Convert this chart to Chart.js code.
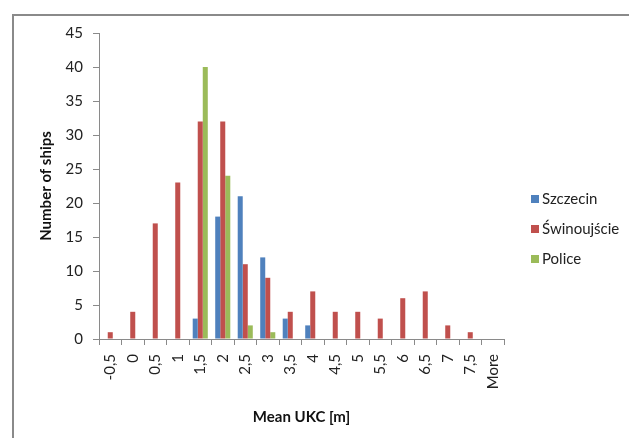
<!DOCTYPE html>
<html>
<head>
<meta charset="utf-8">
<script src="https://cdn.jsdelivr.net/npm/chart.js@4/dist/chart.umd.min.js"></script>
<style>
  html, body { margin: 0; padding: 0; background: #fff; }
  #wrap { width: 629px; height: 438px; }
</style>
</head>
<body>
<div id="wrap"><canvas id="chart" width="629" height="438"></canvas></div>
<script>
const categories = ["-0,5", "0", "0,5", "1", "1,5", "2", "2,5", "3", "3,5", "4", "4,5", "5", "5,5", "6", "6,5", "7", "7,5", "More"];
const szczecin    = [0, 0, 0, 0, 3, 18, 21, 12, 3, 2, 0, 0, 0, 0, 0, 0, 0, 0];
const swinoujscie = [1, 4, 17, 23, 32, 32, 11, 9, 4, 7, 4, 4, 3, 6, 7, 2, 1, 0];
const police      = [0, 0, 0, 0, 40, 24, 2, 1, 0, 0, 0, 0, 0, 0, 0, 0, 0, 0];
const seriesNames = ["Szczecin", "Świnoujście", "Police"];
const seriesColors = ["#4F81BD", "#C0504D", "#9BBB59"];

const FONT = "Lato, 'Open Sans', sans-serif";

// grey frame around the whole chart, like the Excel chart border
const framePlugin = {
   id: "frame",
   beforeDraw(chart) {
      const ctx = chart.ctx;
      ctx.save();
      ctx.fillStyle = "#fff";
      ctx.fillRect(0, 0, chart.width, chart.height);
      ctx.strokeStyle = "#8a8a8a";
      ctx.lineWidth = 2;
      ctx.strokeRect(13, 15, 700, 500);
      ctx.restore();
   }
};

// legend drawn on the right, as in the original
const sideLegend = {
   id: "sideLegend",
   afterDraw(chart) {
      const ctx = chart.ctx;
      ctx.save();
      ctx.font = "15px " + FONT;
      ctx.textBaseline = "middle";
      const ys = [199, 229, 259];
      chart.data.datasets.forEach((ds, i) => {
         ctx.fillStyle = ds.backgroundColor;
         ctx.fillRect(531, ys[i] - 4, 8, 8);
         ctx.fillStyle = "#222";
         ctx.fillText(ds.label, 542, ys[i]);
      });
      ctx.restore();
   }
};

new Chart(document.getElementById("chart"), {
   type: "bar",
   data: {
      labels: categories,
      datasets: [szczecin, swinoujscie, police].map((d, i) => ({
         label: seriesNames[i],
         data: d,
         backgroundColor: seriesColors[i],
         categoryPercentage: 0.67,
         barPercentage: 1.0
      }))
   },
   options: {
      responsive: false,
      animation: false,
      layout: { padding: { top: 33, right: 125, left: 0, bottom: 0 } },
      plugins: {
         legend: { display: false },
         tooltip: { enabled: false }
      },
      scales: {
         x: {
            grid: { drawOnChartArea: false, tickLength: 6, color: "#8a8a8a", offset: true },
            border: { color: "#8a8a8a" },
            ticks: { minRotation: 90, maxRotation: 90, padding: 9, color: "#222", font: { family: FONT, size: 15 } },
            title: { display: true, text: "Mean UKC [m]", color: "#111", font: { family: FONT, size: 15, weight: "bold" }, padding: { top: 4, bottom: 12 } },
            afterFit(scale) { scale.height = 99; }
         },
         y: {
            min: 0, max: 45,
            grid: { drawOnChartArea: false, tickLength: 6, color: "#8a8a8a" },
            border: { color: "#8a8a8a" },
            ticks: { stepSize: 5, padding: 10, color: "#222", font: { family: FONT, size: 15 } },
            title: { display: true, text: "Number of ships", color: "#111", font: { family: FONT, size: 15, weight: "bold" }, padding: { top: 37, bottom: 4 } },
            afterFit(scale) { scale.width = 99; }
         }
      }
   },
   plugins: [framePlugin, sideLegend]
});
</script>
</body>
</html>
